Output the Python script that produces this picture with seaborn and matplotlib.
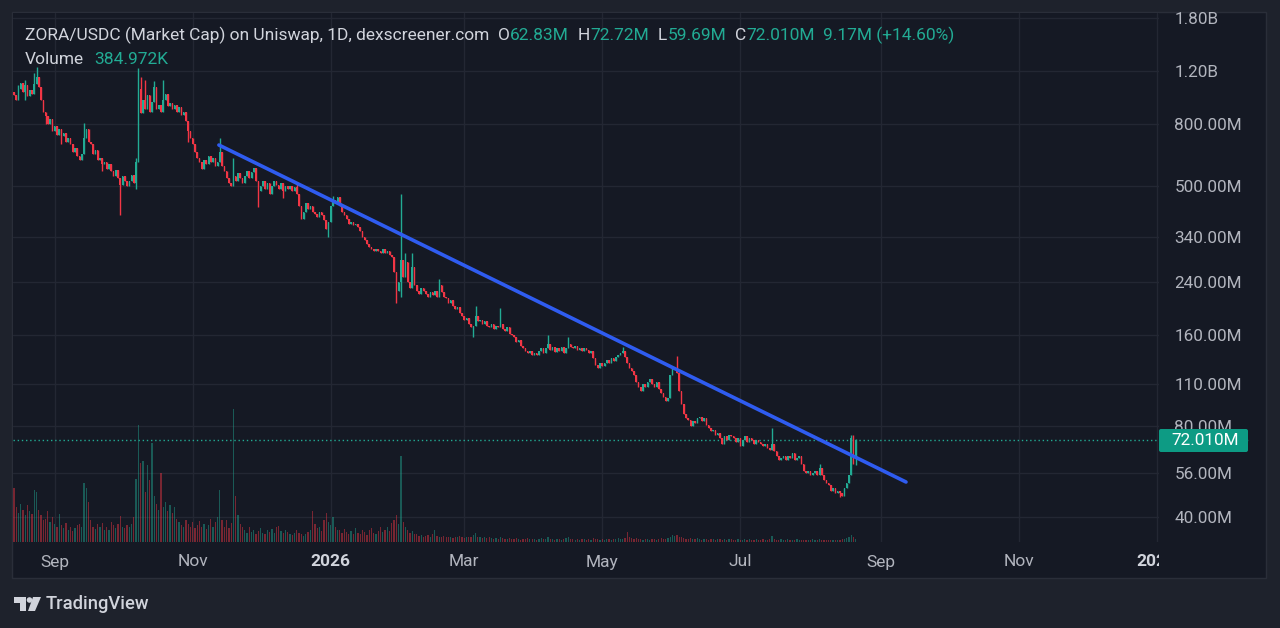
import numpy as np
import pandas as pd
import matplotlib
matplotlib.use('Agg')
import matplotlib.pyplot as plt
import seaborn as sns
from matplotlib.patches import Rectangle, FancyBboxPatch, Polygon, Circle
from matplotlib.transforms import Affine2D, Bbox, TransformedBbox, blended_transform_factory

W, H = 1280, 628

# daily market cap candles (millions USD), open = previous close
start_date = '2025-08-14'
first_open = 1020.0
closes = [
    1000, 960, 1050, 1100, 1020, 1080, 990, 1040, 1010, 1090,
    1150, 1060, 960, 880, 850, 800, 830, 760, 790, 740,
    770, 730, 750, 700, 720, 690, 650, 670, 630, 610,
    640, 720, 770, 700, 690, 640, 660, 610, 620, 590,
    600, 570, 590, 560, 540, 565, 530, 505, 540, 520,
    500, 520, 545, 510, 600, 1050, 870, 960, 900, 1000,
    880, 950, 1060, 900, 930, 880, 960, 1010, 920, 940,
    900, 930, 880, 910, 860, 880, 820, 760, 720, 690,
    650, 620, 600, 570, 610, 590, 630, 600, 620, 580,
    600, 650, 580, 560, 530, 510, 500, 540, 520, 550,
    530, 510, 540, 560, 530, 555, 575, 520, 480, 500,
    520, 490, 510, 470, 500, 520, 505, 490, 510, 480,
    500, 490, 500, 480, 495, 470, 430, 390, 410, 440,
    420, 430, 410, 405, 395, 410, 400, 385, 360, 380,
    430, 450, 440, 460, 430, 410, 400, 390, 375, 380,
    370, 375, 365, 355, 340, 330, 320, 315, 310, 305,
    310, 305, 300, 310, 300, 305, 295, 290, 260, 225,
    240, 285, 250, 280, 240, 230, 270, 235, 225, 220,
    230, 225, 220, 215, 222, 218, 225, 215, 235, 222,
    215, 212, 205, 210, 200, 195, 198, 190, 185, 180,
    182, 175, 170, 172, 185, 178, 180, 175, 178, 172,
    170, 175, 168, 172, 170, 175, 168, 165, 170, 162,
    160, 158, 152, 155, 148, 145, 142, 140, 142, 138,
    140, 138, 142, 145, 140, 145, 150, 143, 146, 141,
    145, 142, 146, 140, 145, 150, 146, 145, 148, 143,
    145, 142, 145, 143, 140, 142, 135, 128, 125, 130,
    127, 130, 133, 130, 135, 132, 136, 138, 140, 142,
    136, 130, 125, 122, 118, 112, 108, 105, 110, 108,
    112, 115, 110, 108, 112, 106, 103, 100, 97, 99,
    118, 124, 125, 120, 105, 95, 88, 85, 84, 80,
    83, 82, 85, 86, 83, 85, 81, 79, 77, 78,
    75, 76, 73, 70, 74, 72, 75, 74, 73, 71,
    73, 69, 72, 74, 71, 73, 72, 70, 72, 71,
    70, 69, 70, 68, 67, 70, 66, 64, 62, 63,
    64, 62, 64, 63, 65, 62, 63, 64, 60, 57,
    56, 57, 55, 56, 57, 55, 58, 55, 53, 52,
    51, 49, 50, 48, 49, 48, 47, 50, 52, 55,
    73, 62.83, 72.01,
]
# visible wicks: day index -> (high, low)
wicks = {
    2: (1080, None), 5: (1120, 960), 9: (1180, None), 10: (1240, None),
    14: (None, 800), 21: (None, 690), 31: (810, None), 39: (None, 560),
    47: (None, 400), 54: (620, 490), 55: (1230, None), 56: (1150, None),
    58: (1120, None), 62: (1110, None), 66: (1120, None), 77: (None, 700),
    91: (720, None), 97: (620, None), 108: (None, 425), 119: (None, 455),
    125: (510, None), 139: (None, 340), 141: (462, None), 169: (None, 205),
    171: (470, 215), 173: (300, None), 176: (300, None), 188: (245, None),
    203: (None, 158), 204: (200, None), 215: (197, None), 236: (160, None),
    245: (158, None), 269: (146, None), 291: (127, None), 293: (137, None),
    335: (79, None), 356: (60, None), 365: (None, 46.5), 370: (75, None),
    371: (75, 60), 372: (72.72, 59.69),
}
volumes = [
    7.0, 4.5, 3.8, 5.0, 4.2, 3.5, 4.8, 4.0, 3.6, 6.8,
    6.5, 4.2, 3.5, 2.8, 3.0, 4.0, 2.6, 3.2, 2.4, 2.0,
    3.6, 2.2, 1.8, 2.5, 1.6, 2.0, 1.4, 1.8, 2.2, 2.4,
    1.9, 7.7, 7.0, 5.2, 2.8, 2.0, 1.7, 2.3, 1.9, 2.5,
    1.6, 2.0, 1.5, 2.6, 2.2, 1.8, 2.4, 3.4, 2.0, 1.8,
    2.2, 1.9, 2.4, 3.2, 8.2, 15.2, 10.3, 10.5, 6.5, 10.0,
    8.0, 12.9, 6.0, 5.0, 4.2, 9.0, 4.6, 5.2, 4.0, 4.8,
    3.8, 4.6, 3.0, 2.6, 2.2, 2.0, 2.8, 2.4, 2.0, 2.6,
    1.8, 2.2, 2.7, 1.9, 2.4, 1.7, 2.2, 3.0, 2.0, 2.6,
    3.2, 6.8, 2.8, 2.0, 2.9, 1.8, 2.5, 17.3, 6.0, 3.5,
    2.4, 2.0, 1.5, 1.2, 1.9, 1.3, 1.6, 1.1, 1.4, 1.8,
    1.2, 1.0, 1.5, 1.3, 1.7, 1.2, 1.9, 2.1, 1.4, 1.2,
    1.6, 1.3, 1.0, 0.9, 1.2, 1.5, 1.2, 1.0, 0.8, 1.1,
    1.3, 1.6, 4.0, 2.4, 1.8, 2.0, 1.4, 2.8, 3.8, 2.6,
    2.2, 3.2, 2.0, 1.6, 1.5, 1.2, 1.7, 1.3, 1.0, 1.4,
    1.1, 1.8, 1.2, 1.0, 1.5, 1.3, 0.9, 1.6, 1.8, 1.2,
    1.0, 1.4, 1.9, 1.3, 1.6, 2.0, 1.4, 2.5, 2.8, 3.5,
    2.4, 11.2, 2.6, 1.9, 1.6, 1.2, 1.4, 1.0, 1.1, 0.8,
    0.9, 0.7, 0.8, 0.9, 0.7, 1.0, 1.6, 0.8, 0.7, 0.6,
    0.8, 0.7, 0.6, 0.7, 0.5, 0.6, 0.7, 0.8, 0.6, 0.5,
    0.6, 0.7, 0.6, 0.9, 1.2, 0.7, 0.6, 0.5, 0.6, 0.5,
    0.6, 0.5, 0.4, 0.5, 0.4, 0.6, 0.5, 0.4, 0.4, 0.5,
    0.4, 0.4, 0.5, 0.4, 0.3, 0.4, 0.4, 0.5, 0.4, 0.4,
    0.4, 0.3, 0.4, 0.5, 0.4, 0.4, 0.6, 0.4, 0.4, 0.3,
    0.4, 0.4, 0.3, 0.4, 0.5, 0.6, 0.4, 0.4, 0.3, 0.4,
    0.3, 0.4, 0.4, 0.3, 0.4, 0.3, 0.5, 0.4, 0.4, 0.3,
    0.4, 0.3, 0.4, 0.4, 0.3, 0.4, 0.4, 0.5, 0.4, 0.4,
    0.5, 1.3, 0.6, 0.5, 0.4, 0.5, 0.4, 0.4, 0.3, 0.4,
    0.4, 0.3, 0.4, 0.4, 0.3, 0.4, 0.5, 0.4, 0.4, 0.5,
    0.7, 0.9, 0.8, 0.9, 0.7, 0.6, 0.5, 0.4, 0.4, 0.5,
    0.4, 0.4, 0.5, 0.4, 0.3, 0.4, 0.4, 0.3, 0.4, 0.4,
    0.3, 0.4, 0.4, 0.3, 0.4, 0.3, 0.4, 0.4, 0.3, 0.3,
    0.4, 0.3, 0.3, 0.4, 0.3, 0.4, 0.3, 0.3, 0.4, 0.3,
    0.3, 0.4, 0.3, 0.3, 0.4, 0.8, 0.4, 0.3, 0.3, 0.4,
    0.3, 0.3, 0.4, 0.3, 0.3, 0.3, 0.4, 0.3, 0.3, 0.3,
    0.3, 0.3, 0.3, 0.4, 0.3, 0.3, 0.4, 0.3, 0.3, 0.3,
    0.3, 0.3, 0.3, 0.3, 0.3, 0.3, 0.4, 0.4, 0.5, 0.6,
    0.9, 0.6, 0.385,
]
trend_dates = ['2025-11-12 14:00', '2026-09-12 05:00']
trend_values = [683, 52.3]
last_close = 72.01

month_ticks = ['2025-09-01', '2025-11-01', '2026-01-01', '2026-03-01', '2026-05-01',
               '2026-07-01', '2026-09-01', '2026-11-01', '2027-01-01']
month_labels = ['Sep', 'Nov', '2026', 'Mar', 'May', 'Jul', 'Sep', 'Nov', '2027']
price_ticks = [40, 56, 80, 110, 160, 240, 340, 500, 800, 1200, 1800]
price_labels = ['40.00M', '56.00M', '80.00M', '110.00M', '160.00M', '240.00M',
                '340.00M', '500.00M', '800.00M', '1.20B', '1.80B']

OUTER = '#1e222c'
PANE = '#151924'
BORDER = '#2a2e39'
GRID = '#232733'
UP = '#22ab94'
DOWN = '#f23645'
TXT = '#d1d4dc'
AXT = '#b2b5be'
BLUE = '#2f5cf0'

sns.set_theme(style='dark', rc={'figure.facecolor': OUTER, 'axes.facecolor': PANE})
plt.rcParams['font.family'] = ['Roboto', 'DejaVu Sans']

fig = plt.figure(figsize=(W / 100, H / 100), dpi=100)
PX = Affine2D().scale(1 / W, -1 / H).translate(0, 1) + fig.transFigure

fig.add_artist(Rectangle((12, 12), 1254, 566, transform=PX, facecolor=PANE,
                         edgecolor=BORDER, lw=1, zorder=0))

rect = [13 / W, 1 - 542 / H, (1159 - 13) / W, (542 - 13) / H]
axv = fig.add_axes(rect)
ax = fig.add_axes(rect)
axv.set_zorder(1)
ax.set_zorder(2)
ax.patch.set_alpha(0)
axv.set_facecolor(PANE)

start = pd.Timestamp(start_date)
n = len(closes)
days = np.arange(n)
opens = np.array([first_open] + closes[:-1])
cl = np.array(closes, dtype=float)
up = cl >= opens
highs = np.maximum(opens, cl)
lows = np.minimum(opens, cl)
for k, (hi, lo) in wicks.items():
    if hi is not None:
        highs[k] = hi
    if lo is not None:
        lows[k] = lo
cols = np.where(up, UP, DOWN)

xlim = (-0.4, -0.4 + (1159 - 13) / 2.263)
ylim = (33.1, 1869)

# volume pane
vol_df = pd.DataFrame({'day': days, 'volume': volumes, 'dir': np.where(up, 'up', 'down')})
sns.barplot(data=vol_df, x='day', y='volume', hue='dir', palette={'up': UP, 'down': DOWN},
            native_scale=True, dodge=False, errorbar=None, width=0.55, alpha=0.45,
            saturation=1, linewidth=0, legend=False, ax=axv)
axv.set_xlim(*xlim)
axv.set_ylim(0, 17.3 * 529 / 133)
axv.set_xticks([])
axv.set_yticks([])
axv.set_xlabel('')
axv.set_ylabel('')
for s in axv.spines.values():
    s.set_visible(False)

# price pane
ax.set_yscale('log')
ax.set_xlim(*xlim)
ax.set_ylim(*ylim)

tick_days = [(pd.Timestamp(d) - start).days for d in month_ticks]
for d in tick_days:
    axv.axvline(d, color=GRID, lw=1, zorder=0)
for p in price_ticks:
    frac = ax.transAxes.inverted().transform(ax.transData.transform((0, p)))[1]
    axv.plot([0, 1], [frac, frac], transform=axv.transAxes, color=GRID, lw=1, zorder=0)

ax.vlines(days, lows, highs, colors=cols, lw=1, zorder=3)
ax.bar(days, np.abs(cl - opens) + 1e-9, bottom=np.minimum(opens, cl),
       width=0.7, color=cols, lw=0, zorder=4)

trend_x = [(pd.Timestamp(d) - start) / pd.Timedelta(days=1) for d in trend_dates]
sns.lineplot(x=trend_x, y=trend_values, ax=ax, color=BLUE, lw=2.6, zorder=5)
ax.axhline(last_close, color=UP, lw=1, ls=(0, (1, 2)), zorder=2, clip_on=False,
           xmax=1 + (1248 - 1159) / (1159 - 13))

ax.set_xlim(*xlim)
ax.set_ylim(*ylim)
ax.set_xticks([])
ax.set_xlabel('')
ax.set_ylabel('')
ax.yaxis.tick_right()
ax.yaxis.set_minor_locator(matplotlib.ticker.NullLocator())
ax.set_yticks(price_ticks, price_labels)
ax.tick_params(axis='y', length=0, pad=11, labelcolor=AXT, labelsize=12.3)
for s in ax.spines.values():
    s.set_visible(False)

# time axis labels, clipped at the pane edge
clipbox = TransformedBbox(Bbox.from_extents(13 / W, 0, 1159 / W, 1), fig.transFigure)
tr = blended_transform_factory(ax.transData, fig.transFigure)
for d, lab in zip(tick_days, month_labels):
    bold = lab.isdigit()
    t = ax.text(d, 1 - 562 / H, lab, transform=tr, ha='center', va='center',
                color=TXT if bold else AXT, fontsize=12.5,
                fontweight='bold' if bold else 'normal', clip_on=True)
    t.set_clip_box(clipbox)

# last price label
fig.add_artist(FancyBboxPatch((1159, 429), 89, 23, transform=PX,
                              boxstyle='round,pad=0,rounding_size=2',
                              facecolor='#0d9b84', edgecolor='none', zorder=5))
fig.text(1171 / W, 1 - 440.5 / H, '72.010M', color='white', fontsize=12.3,
         va='center', ha='left', zorder=6)

# legend header
renderer = fig.canvas.get_renderer()


def text_runs(x, y, parts, size):
    for txt, col, gap in parts:
        t = fig.text(x / W, 1 - y / H, txt, color=col, fontsize=size, va='center',
                     ha='left', zorder=6)
        x += t.get_window_extent(renderer=renderer).width + gap


text_runs(25, 35, [('ZORA/USDC (Market Cap) on Uniswap, 1D, dexscreener.com', TXT, 9),
                   ('O', TXT, 0), ('62.83M', UP, 9), ('H', TXT, 0), ('72.72M', UP, 9),
                   ('L', TXT, 0), ('59.69M', UP, 9), ('C', TXT, 0), ('72.010M', UP, 8),
                   ('9.17M (+14.60%)', UP, 0)], 12.5)
text_runs(25, 59, [('Volume', TXT, 10), ('384.972K', UP, 0)], 12.5)

# TradingView mark
fig.add_artist(Polygon([(14, 597), (26, 597), (26, 611), (20, 611), (20, 603), (14, 603)],
                       closed=True, transform=PX, facecolor=TXT, edgecolor='none'))
fig.add_artist(Circle((29.5, 600), 2.8, transform=PX, facecolor=TXT, edgecolor='none'))
fig.add_artist(Polygon([(33, 597), (41, 597), (35, 611), (28, 611)], closed=True,
                       transform=PX, facecolor=TXT, edgecolor='none'))
fig.text(46 / W, 1 - 604 / H, 'TradingView', color=TXT, fontsize=13.2, fontweight='medium',
         va='center', ha='left')

fig.savefig('out.png', dpi=100, facecolor=OUTER)
